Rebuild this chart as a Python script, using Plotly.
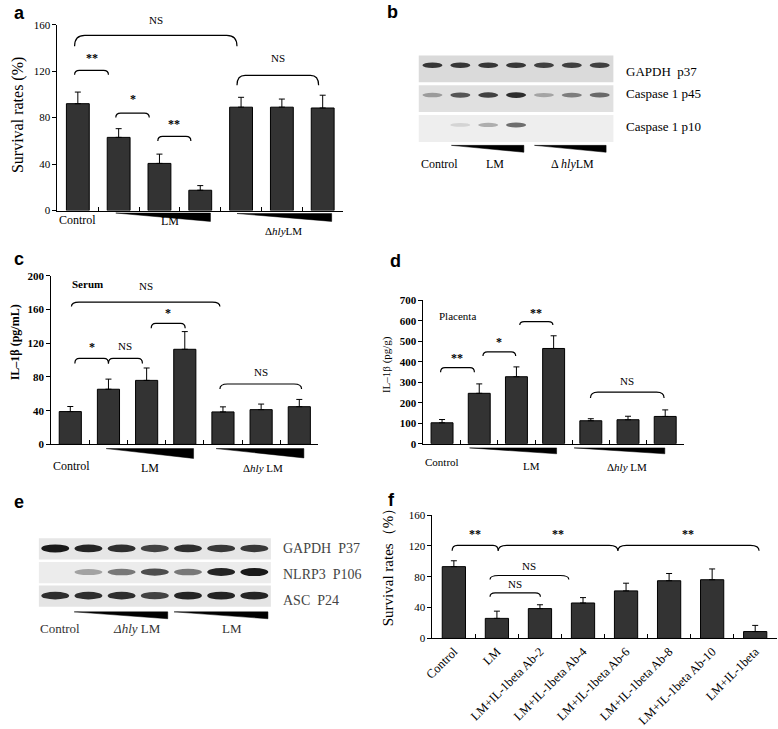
import plotly.graph_objects as go

# ---------------- data ----------------
a_groups = ["Control", "LM low", "LM mid", "LM high", "ΔhlyLM low", "ΔhlyLM mid", "ΔhlyLM high"]
a_survival = [92, 63, 40.6, 17.5, 89, 89, 88.3]
a_err = [10, 7.5, 8, 4, 8.5, 7, 11]

c_groups = a_groups
c_il1b_serum = [38.9, 65.4, 75.9, 112.8, 38.5, 41.2, 44.7]
c_err = [6, 12, 14.7, 21, 6, 6.6, 8.6]

d_groups = a_groups
d_il1b_placenta = [102, 246, 327, 465, 112, 117, 133]
d_err = [16, 46, 48, 62, 10, 17, 32]

f_groups = ["Control", "LM", "LM+IL-1beta Ab-2", "LM+IL-1beta Ab-4", "LM+IL-1beta Ab-6",
            "LM+IL-1beta Ab-8", "LM+IL-1beta Ab-10", "LM+IL-1beta"]
f_survival = [93.2, 26, 38.7, 46, 61.7, 74.9, 76.2, 8.9]
f_err = [7.6, 9.4, 5, 7, 10, 9.4, 14, 8]

b_rows = ["GAPDH  p37", "Caspase 1 p45", "Caspase 1 p10"]
b_bands = [[0.85, 0.85, 0.85, 0.85, 0.8, 0.8, 0.8],
           [0.35, 0.7, 0.8, 0.9, 0.3, 0.5, 0.6],
           [0.0, 0.12, 0.3, 0.6, 0.0, 0.0, 0.0]]
e_rows = ["GAPDH  P37", "NLRP3  P106", "ASC  P24"]
e_bands = [[1.0, 0.95, 0.9, 0.8, 0.9, 0.85, 0.85],
           [0.0, 0.35, 0.55, 0.75, 0.55, 0.95, 1.0],
           [0.9, 0.9, 0.9, 0.8, 0.95, 0.95, 0.95]]

# ---------------- layout helpers ----------------
W, H = 778, 729
SERIF = "Liberation Serif"
SANS = "Liberation Sans"


def xp(px):
    return px / W


def yp(py):
    return 1 - py / H


fig = go.Figure()
shapes = []
annots = []

panels = {
    "a": dict(n="", xpx=(49, 338), ypx=(19, 208), yr=(0, 160), xr=(-0.5, 6.5), dt=40, bold=False),
    "c": dict(n="3", xpx=(42.7, 313), ypx=(274.3, 445.7), yr=(0, 200), xr=(-0.5, 6.5), dt=40, bold=True),
    "d": dict(n="4", xpx=(419.3, 682.7), ypx=(299.3, 445), yr=(0, 700), xr=(-0.5, 6.5), dt=100, bold=True),
    "f": dict(n="6", xpx=(428.3, 776.7), ypx=(517.7, 643), yr=(0, 160), xr=(-0.5, 7.5), dt=40, bold=False),
}


def data_per_px(p):
    return (p["yr"][1] - p["yr"][0]) / (p["ypx"][1] - p["ypx"][0])


def val_to_paper(p, v):
    py = p["ypx"][1] - (v - p["yr"][0]) / data_per_px(p)
    return yp(py)


def add_bars(key, vals, errs, width):
    p = panels[key]
    n = len(vals)
    fig.add_trace(go.Bar(
        x=list(range(n)), y=vals, width=width,
        marker=dict(color="#333333", line=dict(color="black", width=1)),
        error_y=dict(type="data", symmetric=False, array=errs, arrayminus=[0] * n,
                     color="black", thickness=1, width=3),
        xaxis="x" + p["n"], yaxis="y" + p["n"], showlegend=False,
    ))
    tickfont = dict(family=SERIF, size=11, color="black")
    if p["bold"]:
        tickfont["weight"] = "bold"
    fig.update_layout(**{
        "xaxis" + p["n"]: dict(domain=[xp(p["xpx"][0]), xp(p["xpx"][1])], range=list(p["xr"]),
                               anchor="y" + p["n"], showline=True, linecolor="black", linewidth=1,
                               showgrid=False, zeroline=False,
                               tickvals=[i + 0.5 for i in range(n - 1)], ticks="inside",
                               ticklen=4, tickcolor="black", showticklabels=False),
        "yaxis" + p["n"]: dict(domain=[yp(p["ypx"][1]), yp(p["ypx"][0])], range=list(p["yr"]),
                               anchor="x" + p["n"], showline=True, linecolor="black", linewidth=1,
                               showgrid=False, zeroline=False, ticks="outside", ticklen=4,
                               tickcolor="black", dtick=p["dt"], tickfont=tickfont),
    })


def bracket(key, x0, x1, y, label, drop_px=5, r=0.12, lab_dy=12):
    p = panels[key]
    dpp = data_per_px(p)
    h = drop_px * dpp
    path = (f"M {x0},{y - h} Q {x0},{y} {x0 + r},{y} L {x1 - r},{y} "
            f"Q {x1},{y} {x1},{y - h}")
    shapes.append(dict(type="path", path=path, xref="x" + p["n"], yref="y" + p["n"],
                       line=dict(color="black", width=1.2)))
    ly = val_to_paper(p, y + lab_dy * dpp)
    isstar = "*" in label
    annots.append(dict(x=(x0 + x1) / 2, y=ly, xref="x" + p["n"], yref="paper",
                       text=f"<b>{label}</b>" if isstar else label, showarrow=False,
                       font=dict(family=SERIF, size=12 if isstar else 11, color="black"),
                       xanchor="center", yanchor="middle"))


def wedge(xref, x0, x1, top_px, thick_px):
    path = (f"M {x0},{yp(top_px)} L {x1},{yp(top_px)} L {x1},{yp(top_px + thick_px)} Z")
    shapes.append(dict(type="path", path=path, xref=xref, yref="paper",
                       fillcolor="black", line=dict(color="black", width=0.5)))


def text(x, y_px, s, xref="paper", size=12, anchor="center", family=SERIF, color="black",
         angle=0, weight=None):
    f = dict(family=family, size=size, color=color)
    if weight:
        f["weight"] = weight
    annots.append(dict(x=x, y=yp(y_px), xref=xref, yref="paper", text=s, showarrow=False,
                       font=f, xanchor=anchor, yanchor="middle", textangle=angle))


# ---------------- panel a ----------------
add_bars("a", a_survival, a_err, 0.56)
bracket("a", -0.08, 0.75, 120.7, "**", 4.5, lab_dy=13)
bracket("a", 0.93, 1.75, 83.9, "*", 4.5, lab_dy=14)
bracket("a", 1.96, 2.77, 63.8, "**", 4.5, lab_dy=13)
bracket("a", -0.08, 3.9, 150.8, "NS", 11, r=0.25, lab_dy=16)
bracket("a", 3.9, 5.9, 116.3, "NS", 10, r=0.2, lab_dy=18)
wedge("x", 0.93, 3.25, 210.5, 8.5)
wedge("x", 3.9, 6.22, 211, 8)
text(0, 218, "Control", xref="x")
text(2.26, 218.5, "LM", xref="x")
text(5.04, 229, "Δ<i>hly</i>LM", xref="x", size=11)
text(xp(9), 111, "Survival rates (%)", size=16, angle=-90)
text(xp(3), 7, "<b>a</b>", anchor="left", family=SANS, size=18)

# ---------------- panel c ----------------
add_bars("c", c_il1b_serum, c_err, 0.58)
bracket("c", 0.03, 3.92, 168.8, "NS", 4.5, r=0.2, lab_dy=16)
bracket("c", 0.12, 1.0, 101.9, "*", 5, lab_dy=12)
bracket("c", 1.0, 1.89, 101.9, "NS", 5, lab_dy=13)
bracket("c", 2.12, 3.01, 143.5, "*", 5, lab_dy=11)
bracket("c", 3.92, 6.06, 71.6, "NS", 5, r=0.2, lab_dy=12)
annots.append(dict(x=0.44, y=190.6, xref="x3", yref="y3", text="<b>Serum</b>", showarrow=False,
                   font=dict(family=SERIF, size=11, color="black"), xanchor="center", yanchor="middle"))
wedge("x3", 0.94, 3.23, 450, 10)
wedge("x3", 3.82, 6.12, 450, 9.5)
text(0.03, 467.7, "Control", xref="x3", size=12)
text(2.1, 470, "LM", xref="x3", size=12)
text(5.04, 470, "Δ<i>hly</i> LM", xref="x3", size=11)
text(xp(6), 342, "IL–1β (pg/mL)", size=12, angle=-90, weight="bold")
text(xp(3), 257, "<b>c</b>", anchor="left", family=SANS, size=18)

# ---------------- panel d ----------------
add_bars("d", d_il1b_placenta, d_err, 0.59)
bracket("d", -0.04, 0.87, 371.7, "**", 4.7, lab_dy=10)
bracket("d", 1.1, 1.98, 448.6, "*", 4.2, lab_dy=10)
bracket("d", 2.09, 2.98, 596, "**", 3.5, lab_dy=9)
bracket("d", 3.99, 5.97, 251.5, "NS", 6, r=0.2, lab_dy=11)
annots.append(dict(x=0.42, y=624.8, xref="x4", yref="y4", text="Placenta", showarrow=False,
                   font=dict(family=SERIF, size=11, color="black"), xanchor="center", yanchor="middle"))
wedge("x4", 0.74, 3.08, 449.3, 6)
wedge("x4", 3.55, 5.99, 449.3, 6)
text(0.0, 463.3, "Control", xref="x4", size=11)
text(2.4, 468, "LM", xref="x4", size=11)
text(4.97, 469, "Δ<i>hly</i> LM", xref="x4", size=11)
text(xp(382), 364.5, "IL–1β (pg/g)", size=11, angle=-90)
text(xp(383), 259, "<b>d</b>", anchor="left", family=SANS, size=18)

# ---------------- panel f ----------------
add_bars("f", f_survival, f_err, 0.54)
fig.update_layout(xaxis6=dict(tickvals=list(range(len(f_groups))), ticktext=f_groups,
                              showticklabels=True, ticks="", tickangle=-45,
                              tickfont=dict(family=SERIF, size=12.5, color="black"),
                              minor=dict(tickmode="array",
                                         tickvals=[i + 0.5 for i in range(len(f_groups) - 1)],
                                         ticks="inside", ticklen=4, tickcolor="black")))
bracket("f", -0.04, 1.03, 120.8, "**", 5.5, lab_dy=12)
bracket("f", 1.03, 3.81, 120.8, "**", 5.5, r=0.2, lab_dy=12)
bracket("f", 3.81, 7.09, 120.8, "**", 5.5, r=0.2, lab_dy=12)
bracket("f", 0.84, 2.67, 81.7, "NS", 4, r=0.2, lab_dy=10)
bracket("f", 0.84, 2.01, 59.1, "NS", 4, lab_dy=9)
text(xp(383), 567, "Survival rates（%）", size=15, angle=-90)
text(xp(381), 502, "<b>f</b>", anchor="left", family=SANS, size=18)


# ---------------- blots ----------------
def blot(n, xpx, ypx, rows, bands, strip_colors, band_w, band_h, band_off, label_x_px,
         label_size, label_color, label_dy):
    nl = len(bands[0])
    nr = len(rows)
    fig.update_layout(**{
        "xaxis" + n: dict(domain=[xp(xpx[0]), xp(xpx[1])], range=[0.5, nl + 0.5], visible=False,
                          anchor="y" + n),
        "yaxis" + n: dict(domain=[yp(ypx[1]), yp(ypx[0])], range=[nr - 0.5, -0.5], visible=False,
                          anchor="x" + n),
    })
    fig.add_trace(go.Scatter(x=[1], y=[0], mode="markers", marker=dict(opacity=0),
                             xaxis="x" + n, yaxis="y" + n, showlegend=False, hoverinfo="skip"))
    for r, name in enumerate(rows):
        shapes.append(dict(type="rect", xref="x" + n, yref="y" + n, x0=0.5, x1=nl + 0.5,
                           y0=r - 0.45, y1=r + 0.45, fillcolor=strip_colors[r], line=dict(width=0),
                           layer="below"))
        for lane, inten in enumerate(bands[r], start=1):
            if inten <= 0:
                continue
            hh = band_h * (0.6 + 0.4 * inten)
            shapes.append(dict(type="circle", xref="x" + n, yref="y" + n,
                               x0=lane - band_w / 2, x1=lane + band_w / 2,
                               y0=r + band_off - hh / 2, y1=r + band_off + hh / 2,
                               fillcolor=f"rgba(25,25,25,{inten:.2f})", line=dict(width=0)))
        cy = ypx[0] + (r + 0.5) * (ypx[1] - ypx[0]) / nr
        text(xp(label_x_px), cy + label_dy[r], name, size=label_size, anchor="left",
             color=label_color)


# panel b
blot("2", (414.3, 611.7), (48.7, 139.7), b_rows, b_bands, ["#dadada", "#e0e0e0", "#eeeeee"],
     0.72, 0.2, -0.12, 622, 13, "black", [3, -5, -2])
wedge("x2", 1.68, 4.28, 141.7, 7)
wedge("x2", 4.66, 7.23, 141.7, 7)
text(1.26, 161, "Control", xref="x2", size=12)
text(3.25, 161, "LM", xref="x2", size=12)
text(6.02, 161, "Δ <i>hly</i>LM", xref="x2", size=12)
text(xp(380), 6, "<b>b</b>", anchor="left", family=SANS, size=18)

# panel e
blot("5", (30, 265), (540, 612), e_rows, e_bands, ["#e6e6e6", "#ececec", "#e4e4e4"],
     0.84, 0.34, -0.02, 275, 14, "#444444", [0, 2, 4])
wedge("x5", 1.57, 4.39, 616, 7)
wedge("x5", 4.58, 7.41, 616, 7)
text(1.15, 632.7, "Control", xref="x5", size=13, color="#333333")
text(3.47, 633, "<i>Δhly</i> LM", xref="x5", size=13, color="#333333")
text(6.33, 632.7, "LM", xref="x5", size=13, color="#333333")
text(xp(3), 504, "<b>e</b>", anchor="left", family=SANS, size=18)

fig.update_layout(width=W, height=H, margin=dict(l=0, r=0, t=0, b=0),
                  paper_bgcolor="white", plot_bgcolor="white",
                  shapes=shapes, annotations=annots, bargap=0, showlegend=False)

fig.write_html("out.html", config={"displayModeBar": False, "staticPlot": True},
               post_script="document.body.style.margin='0';document.body.style.overflow='hidden';")
